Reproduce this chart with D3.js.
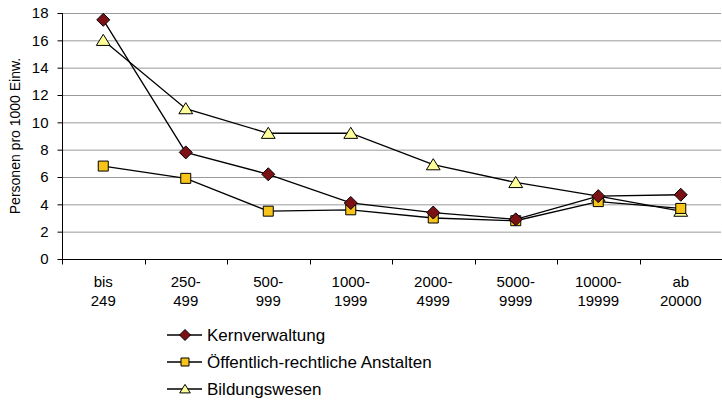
<!DOCTYPE html>
<html><head><meta charset="utf-8">
<script src="https://cdn.jsdelivr.net/npm/d3@7/dist/d3.min.js"></script>
<style>body{margin:0;background:#fff}svg{display:block}text{font-family:"Liberation Sans",Arial,sans-serif;fill:#000}</style>
</head><body><svg id="c" width="722" height="401"></svg>
<script>
const categories = [["bis","249"],["250-","499"],["500-","999"],["1000-","1999"],["2000-","4999"],["5000-","9999"],["10000-","19999"],["ab","20000"]];
const kernverwaltung = [17.5, 7.8, 6.2, 4.1, 3.4, 2.9, 4.6, 4.7];
const anstalten = [6.8, 5.9, 3.5, 3.6, 3.0, 2.8, 4.2, 3.7];
const bildung = [16.0, 11.0, 9.2, 9.2, 6.9, 5.6, 4.6, 3.5];
const yTicks = [0,2,4,6,8,10,12,14,16,18];
const seriesNames = ["Kernverwaltung","Öffentlich-rechtliche Anstalten","Bildungswesen"];

const svg = d3.select("#c");
const L = 62, R = 721, T = 13, B = 259;
const x = d3.scaleBand().domain(d3.range(categories.length)).range([L, R+1]);
const y = d3.scaleLinear().domain([0,18]).range([B, T]);

// gridlines
svg.append("g").selectAll("line").data(yTicks.filter(d=>d>0)).join("line")
  .attr("x1",L).attr("x2",R).attr("y1",d=>y(d)+0.5).attr("y2",d=>y(d)+0.5)
  .attr("stroke","#9a9a9a").attr("stroke-width",1);

// y axis
const ya = svg.append("g").attr("transform",`translate(${L+0.5},0)`)
  .call(d3.axisLeft(y).tickValues(yTicks).tickSize(5).tickPadding(9));
ya.selectAll("path,line").attr("stroke","#000");
ya.selectAll("text").attr("font-size",15).attr("font-family","Liberation Sans, Arial, sans-serif");
ya.select(".domain").attr("d",`M0,${T}V${B+0.5}`);

// x axis
const xa = svg.append("g").attr("transform",`translate(0,${B+0.5})`);
xa.append("line").attr("x1",L).attr("x2",R+1).attr("stroke","#000");
xa.selectAll("line.t").data(d3.range(categories.length+1)).join("line").attr("class","t")
  .attr("x1",i=>Math.round(L + i*x.step())+0.5).attr("x2",i=>Math.round(L + i*x.step())+0.5)
  .attr("y1",0).attr("y2",5).attr("stroke","#000");
const lab = svg.append("g").selectAll("text").data(categories).join("text")
  .attr("text-anchor","middle").attr("font-size",15)
  .attr("x",(d,i)=>x(i)+x.bandwidth()/2);
lab.append("tspan").attr("y",287).text(d=>d[0]);
lab.append("tspan").attr("x",(d,i)=>x(i)+x.bandwidth()/2).attr("y",306).text(d=>d[1]);

// y title
svg.append("text").attr("transform",`translate(20,${(T+B)/2}) rotate(-90)`)
  .attr("text-anchor","middle").attr("font-size",14).text("Personen pro 1000 Einw.");

const cx = i => x(i)+x.bandwidth()/2;
const line = d3.line().x((d,i)=>cx(i)).y(d=>y(d));
const diamond = r => `M0,${-r}L${r},0L0,${r}L${-r},0Z`;
const square = r => `M${-r},${-r}H${r}V${r}H${-r}Z`;
const triangle = r => `M0,${-r}L${r*1.15},${r*0.85}L${-r*1.15},${r*0.85}Z`;
const sym = [
  {data:kernverwaltung, shape:diamond, r:6.5, lr:5.5, fill:"#7b1115"},
  {data:anstalten, shape:square, r:5, lr:4, fill:"#f8c41a"},
  {data:bildung, shape:triangle, r:6, lr:4.6, fill:"#ffff99"}
];
const order = [2,1,0];
order.forEach(k=>{
  const s = sym[k];
  svg.append("path").datum(s.data).attr("d",line).attr("fill","none").attr("stroke","#000").attr("stroke-width",1.3);
});
order.forEach(k=>{
  const s = sym[k];
  svg.append("g").selectAll("path").data(s.data).join("path")
    .attr("transform",(d,i)=>`translate(${cx(i)},${y(d)})`)
    .attr("d",s.shape(s.r))
    .attr("fill",s.fill).attr("stroke","#000").attr("stroke-width",1);
});

// legend
const ly = [335, 362, 389];
seriesNames.forEach((n,k)=>{
  const g = svg.append("g").attr("transform",`translate(0,${ly[k]})`);
  g.append("line").attr("x1",167).attr("x2",202).attr("stroke","#000").attr("stroke-width",1.3);
  g.append("path").attr("transform",`translate(185,0)`)
    .attr("d",sym[k].shape(sym[k].lr))
    .attr("fill",sym[k].fill).attr("stroke","#000");
  g.append("text").attr("x",207).attr("y",6).attr("font-size",17).text(n);
});
</script></body></html>
